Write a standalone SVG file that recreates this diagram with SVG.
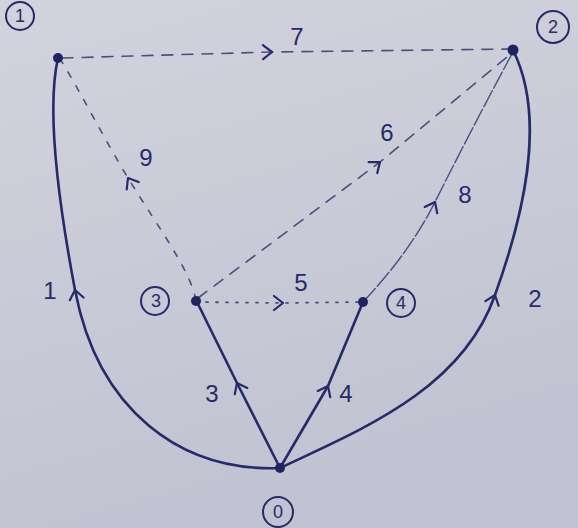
<svg xmlns="http://www.w3.org/2000/svg" width="578" height="528" viewBox="0 0 578 528">
<style>
.ink{fill:none;stroke:#262a68;stroke-linecap:round;stroke-linejoin:round}
.solid{stroke-width:2.6}
.dash{stroke:#4a4f80;stroke-width:1.6;stroke-dasharray:11 9}
.thin{stroke:#4a4f80;stroke-width:1.4;stroke-dasharray:18 3}
.dot{stroke:#4a4f80;stroke-width:1.8;stroke-dasharray:2 8}
.dot9{stroke:#4a4f80;stroke-width:1.6;stroke-dasharray:6 10}
.lbl{font-family:"Liberation Sans",Arial,sans-serif;font-size:24px;fill:#262a68;text-anchor:middle}
.nlbl{font-family:"Liberation Sans",Arial,sans-serif;font-size:18px;fill:#262a68;text-anchor:middle}
.ring{fill:none;stroke:#262a68;stroke-width:2}
.node{fill:#1f2360}
</style>
<defs>
<linearGradient id="paper" x1="0" y1="0" x2="0.3" y2="1">
<stop offset="0" stop-color="#d2d3dd"/>
<stop offset="1" stop-color="#c1c3d2"/>
</linearGradient>
<marker id="chev" viewBox="-12 -9 14 18" markerWidth="14" markerHeight="18" refX="0" refY="0" orient="auto" markerUnits="userSpaceOnUse">
<path d="M-9,-7 L0,0 L-9,7" fill="none" stroke="#262a68" stroke-width="2.2" stroke-linecap="round" stroke-linejoin="round"/>
</marker>
</defs>
<rect width="578" height="528" fill="url(#paper)"/>
<g id="connectors">
<path id="e1" class="ink solid" d="M280,468 C180,472 98,410 75,290 C58,200 46,110 58,58" marker-mid="url(#chev)"/>
<path id="e2" class="ink solid" d="M280,468 C360,430 462,390 495,295 C522,220 548,120 513,50" marker-mid="url(#chev)"/>
<path id="e3" class="ink solid" d="M280,468 L237,383 L196,300" marker-mid="url(#chev)"/>
<path id="e4" class="ink solid" d="M280,468 L328,386 L363,302" marker-mid="url(#chev)"/>
<path id="e5" class="ink dot" d="M196,302 L283,303 L363,302" marker-mid="url(#chev)"/>
<path id="e6" class="ink dash" d="M198,298 L380,162 L513,52" marker-mid="url(#chev)"/>
<path id="e7" class="ink dash" d="M62,58 L272,52 L511,49" marker-mid="url(#chev)"/>
<path id="e8" class="ink thin" d="M363,302 Q410,252 435,202 Q472,128 513,52" marker-mid="url(#chev)"/>
<path id="e9" class="ink dot9" d="M196,300 C190,270 160,230 128,178 C105,140 82,95 62,62" marker-mid="url(#chev)"/>
<text class="lbl" x="50" y="299">1</text>
<text class="lbl" x="535" y="307">2</text>
<text class="lbl" x="212" y="402">3</text>
<text class="lbl" x="346" y="402">4</text>
<text class="lbl" x="301" y="291">5</text>
<text class="lbl" x="387" y="141">6</text>
<text class="lbl" x="297" y="45">7</text>
<text class="lbl" x="465" y="203">8</text>
<text class="lbl" x="146" y="166">9</text>
</g>
<g id="node1">
<circle class="node" cx="58" cy="58" r="5"/>
<circle class="ring" cx="20" cy="16" r="14"/>
<text class="nlbl" x="20" y="22">1</text>
</g>
<g id="node2">
<circle class="node" cx="513" cy="50" r="5.5"/>
<circle class="ring" cx="553" cy="27" r="16"/>
<text class="nlbl" x="553" y="33">2</text>
</g>
<g id="node3">
<circle class="node" cx="196" cy="301" r="5"/>
<circle class="ring" cx="155" cy="301" r="14"/>
<text class="nlbl" x="156" y="307">3</text>
</g>
<g id="node4">
<circle class="node" cx="363" cy="302" r="5"/>
<circle class="ring" cx="401" cy="303" r="14"/>
<text class="nlbl" x="401" y="309">4</text>
</g>
<g id="node0">
<circle class="node" cx="280" cy="468" r="5"/>
<circle class="ring" cx="278" cy="512" r="15"/>
<text class="nlbl" x="278" y="518">0</text>
</g>
</svg>
